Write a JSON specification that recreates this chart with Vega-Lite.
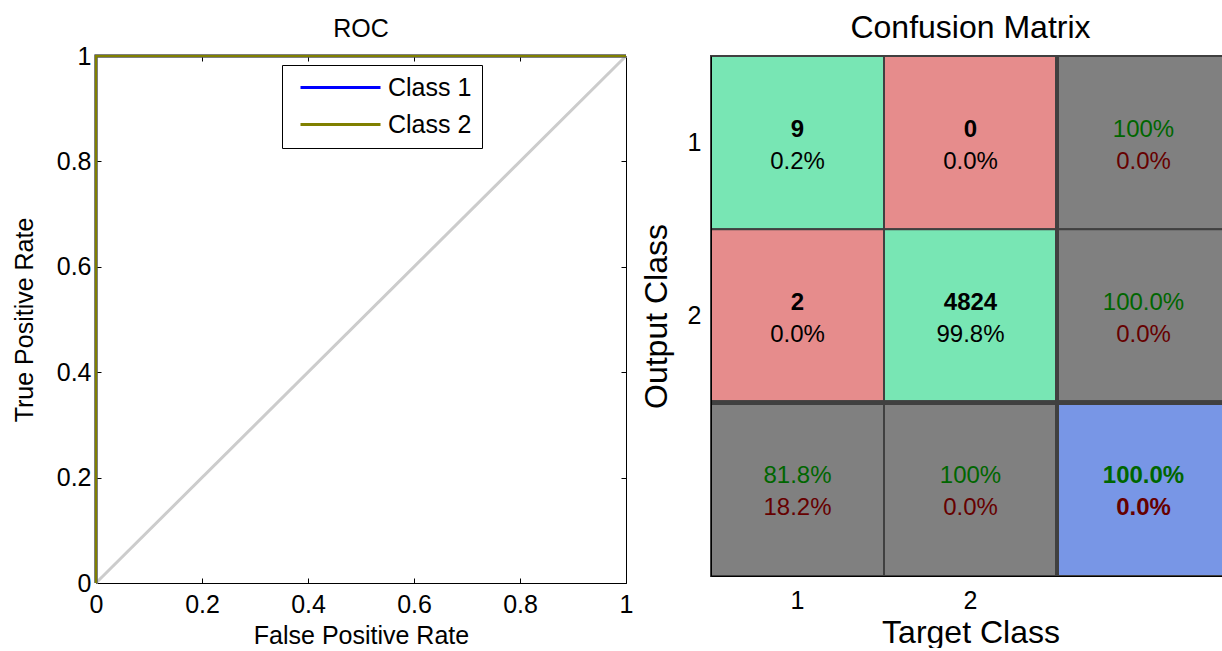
{
  "$schema": "https://vega.github.io/schema/vega-lite/v6.json",
  "padding": {"left": 12, "top": 12, "right": 0, "bottom": 0},
  "bounds": "flush",
  "spacing": 85,
  "config": {
    "font": "Liberation Sans",
    "view": {"stroke": null},
    "axis": {"grid": false, "labelFont": "Liberation Sans", "titleFont": "Liberation Sans", "labelColor": "black", "titleColor": "black", "titleFontWeight": "normal", "domainColor": "black", "tickColor": "black"},
    "title": {"font": "Liberation Sans", "fontWeight": "normal", "color": "black"}
  },
  "datasets": {
    "roc": [
      {"cls": "Class 1", "step": 1, "fpr": 0, "tpr": 0},
      {"cls": "Class 1", "step": 2, "fpr": 0, "tpr": 1},
      {"cls": "Class 1", "step": 3, "fpr": 1, "tpr": 1},
      {"cls": "Class 2", "step": 1, "fpr": 0, "tpr": 0},
      {"cls": "Class 2", "step": 2, "fpr": 0, "tpr": 1},
      {"cls": "Class 2", "step": 3, "fpr": 1, "tpr": 1}
    ],
    "diag": [
      {"fpr": 0, "tpr": 0},
      {"fpr": 1, "tpr": 1}
    ],
    "cm": [
      {"col": 1, "row": 1, "kind": "correct", "top": "9", "bottom": "0.2%"},
      {"col": 2, "row": 1, "kind": "wrong", "top": "0", "bottom": "0.0%"},
      {"col": 3, "row": 1, "kind": "summary", "top": "100%", "bottom": "0.0%"},
      {"col": 1, "row": 2, "kind": "wrong", "top": "2", "bottom": "0.0%"},
      {"col": 2, "row": 2, "kind": "correct", "top": "4824", "bottom": "99.8%"},
      {"col": 3, "row": 2, "kind": "summary", "top": "100.0%", "bottom": "0.0%"},
      {"col": 1, "row": 3, "kind": "summary", "top": "81.8%", "bottom": "18.2%"},
      {"col": 2, "row": 3, "kind": "summary", "top": "100%", "bottom": "0.0%"},
      {"col": 3, "row": 3, "kind": "total", "top": "100.0%", "bottom": "0.0%"}
    ]
  },
  "hconcat": [
    {
      "width": 530,
      "height": 527,
      "title": {"text": "ROC", "fontSize": 25, "offset": -18, "baseline": "alphabetic", "frame": "group", "anchor": "middle"},
      "layer": [
        {
          "data": {"name": "diag"},
          "mark": {"type": "line", "color": "#cccccc", "strokeWidth": 3},
          "encoding": {
            "x": {"field": "fpr", "type": "quantitative", "scale": {"domain": [0, 1], "nice": false, "zero": false},
              "axis": {"orient": "bottom", "values": [0, 0.2, 0.4, 0.6, 0.8, 1], "format": "~g", "title": "False Positive Rate", "labelFontSize": 25, "titleFontSize": 25, "tickSize": -5, "labelPadding": 14, "titlePadding": 6, "labelFlush": false}},
            "y": {"field": "tpr", "type": "quantitative", "scale": {"domain": [0, 1], "nice": false, "zero": false},
              "axis": {"orient": "left", "values": [0, 0.2, 0.4, 0.6, 0.8, 1], "format": "~g", "title": "True Positive Rate", "labelFontSize": 25, "titleFontSize": 25, "tickSize": -5, "labelPadding": 10, "titlePadding": 19, "labelFlush": false}}
          }
        },
        {
          "data": {"name": "roc"},
          "mark": {"type": "line", "strokeWidth": 3},
          "encoding": {
            "x": {"field": "fpr", "type": "quantitative", "axis": {"orient": "top", "values": [0, 0.2, 0.4, 0.6, 0.8, 1], "labels": false, "title": null, "tickSize": -5}},
            "y": {"field": "tpr", "type": "quantitative", "axis": {"orient": "right", "values": [0, 0.2, 0.4, 0.6, 0.8, 1], "labels": false, "title": null, "tickSize": -5}},
            "color": {"field": "cls", "type": "nominal", "scale": {"domain": ["Class 1", "Class 2"], "range": ["#0000ff", "#808000"]},
              "legend": {"title": null, "orient": "none", "legendX": 186, "legendY": 9, "symbolType": "M-4,0H4", "symbolSize": 400, "symbolStrokeWidth": 3, "symbolOffset": 36, "labelOffset": 35, "labelFontSize": 25, "labelColor": "black", "padding": 10, "rowPadding": 11, "strokeColor": "black", "fillColor": "white", "cornerRadius": 0}},
            "order": {"field": "step"}
          }
        }
      ],
      "resolve": {"axis": {"x": "independent", "y": "independent"}}
    },
    {
      "width": 519,
      "height": 520,
      "data": {"name": "cm"},
      "title": {"text": "Confusion Matrix", "fontSize": 32, "offset": -16, "baseline": "alphabetic", "frame": "group", "anchor": "middle"},
      "layer": [
        {
          "encoding": {
            "x": {"field": "col", "type": "ordinal", "scale": {"paddingInner": 0, "paddingOuter": 0},
              "axis": {"orient": "bottom", "title": "Target Class", "titleFontSize": 32, "labelFontSize": 25, "labelAngle": 0, "labelExpr": "datum.value == 3 ? '' : datum.label", "ticks": false, "labelPadding": 12, "titlePadding": 4}},
            "y": {"field": "row", "type": "ordinal", "scale": {"paddingInner": 0, "paddingOuter": 0},
              "axis": {"orient": "left", "title": "Output Class", "titleFontSize": 32, "labelFontSize": 25, "labelExpr": "datum.value == 3 ? '' : datum.label", "ticks": false, "labelPadding": 10, "titlePadding": 14}}
          },
          "layer": [
            {
              "mark": {"type": "rect", "stroke": "#404040", "strokeWidth": 2},
              "encoding": {
                "fill": {"field": "kind", "type": "nominal", "scale": {"domain": ["correct", "wrong", "summary", "total"], "range": ["#78E6B4", "#E68C8C", "#808080", "#7896E6"]}, "legend": null}
              }
            },
            {
              "transform": [{"filter": "datum.kind != 'summary'"}],
              "mark": {"type": "text", "fontSize": 24, "fontWeight": "bold", "baseline": "alphabetic", "dy": -6},
              "encoding": {
                "text": {"field": "top"},
                "color": {"field": "kind", "type": "nominal", "scale": {"domain": ["correct", "wrong", "total"], "range": ["#000000", "#000000", "#006600"]}, "legend": null}
              }
            },
            {
              "transform": [{"filter": "datum.kind == 'summary'"}],
              "mark": {"type": "text", "fontSize": 24, "baseline": "alphabetic", "dy": -6, "color": "#006600"},
              "encoding": {"text": {"field": "top"}}
            },
            {
              "transform": [{"filter": "datum.kind != 'total'"}],
              "mark": {"type": "text", "fontSize": 24, "baseline": "alphabetic", "dy": 26},
              "encoding": {
                "text": {"field": "bottom"},
                "color": {"field": "kind", "type": "nominal", "scale": {"domain": ["correct", "wrong", "summary"], "range": ["#000000", "#000000", "#660000"]}, "legend": null}
              }
            },
            {
              "transform": [{"filter": "datum.kind == 'total'"}],
              "mark": {"type": "text", "fontSize": 24, "fontWeight": "bold", "baseline": "alphabetic", "dy": 26, "color": "#660000"},
              "encoding": {"text": {"field": "bottom"}}
            }
          ],
          "resolve": {"scale": {"color": "independent"}}
        },
        {
          "mark": {"type": "rule", "color": "#404040", "strokeWidth": 4},
          "encoding": {"x": {"datum": 3, "type": "ordinal", "bandPosition": 0,
            "axis": {"orient": "bottom", "title": "Target Class", "titleFontSize": 32, "labelFontSize": 25, "labelAngle": 0, "labelExpr": "datum.value == 3 ? '' : datum.label", "ticks": false, "labelPadding": 12, "titlePadding": 4}}}
        },
        {
          "mark": {"type": "rule", "color": "#404040", "strokeWidth": 4},
          "encoding": {"y": {"datum": 3, "type": "ordinal", "bandPosition": 0,
            "axis": {"orient": "left", "title": "Output Class", "titleFontSize": 32, "labelFontSize": 25, "labelExpr": "datum.value == 3 ? '' : datum.label", "ticks": false, "labelPadding": 10, "titlePadding": 14}}}
        }
      ]
    }
  ]
}
